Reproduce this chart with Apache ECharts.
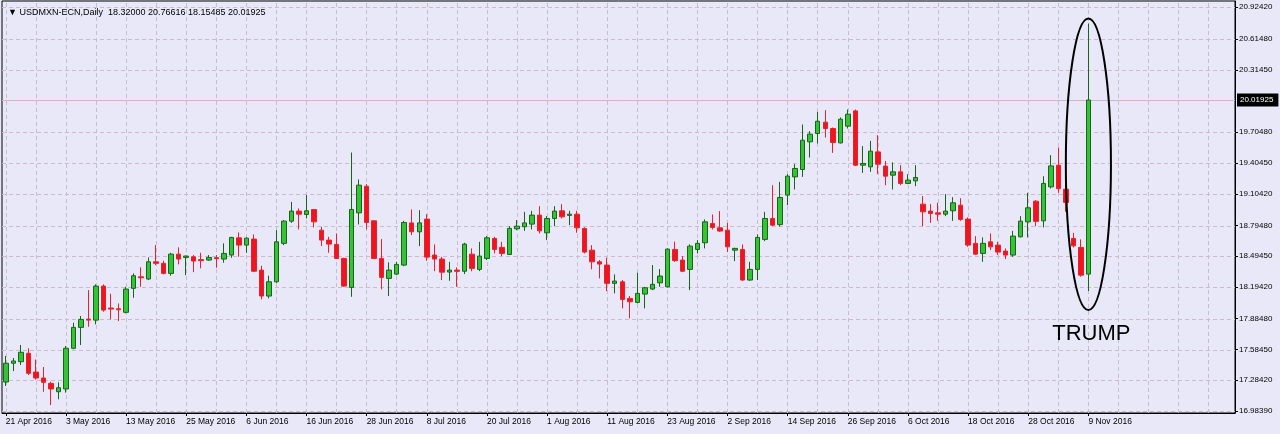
<!DOCTYPE html>
<html>
<head>
<meta charset="utf-8">
<script src="https://cdn.jsdelivr.net/npm/echarts@6/dist/echarts.min.js"></script>
<style>
html,body{margin:0;padding:0;background:#e8e8f8;}
#c{width:1280px;height:434px;}
</style>
</head>
<body>
<div id="c"></div>
<script>
// ---------- data ----------
const symbolTitle = 'USDMXN-ECN,Daily';
const startDate = '2016-04-21';
const xTickLabels = ['21 Apr 2016','3 May 2016','13 May 2016','25 May 2016','6 Jun 2016','16 Jun 2016','28 Jun 2016','8 Jul 2016','20 Jul 2016','1 Aug 2016','11 Aug 2016','23 Aug 2016','2 Sep 2016','14 Sep 2016','26 Sep 2016','6 Oct 2016','18 Oct 2016','28 Oct 2016','9 Nov 2016'];
const yTicks = [16.98390,17.28420,17.58450,17.88480,18.19420,18.49450,18.79480,19.10420,19.40450,19.70480,20.31450,20.61480,20.92420];
const lastPrice = 20.01925;

const open = [17.267,17.450,17.465,17.547,17.364,17.306,17.254,17.172,17.199,17.596,
17.800,17.881,17.871,18.203,17.989,17.982,17.947,18.181,18.294,18.272,
18.440,18.425,18.327,18.515,18.483,18.489,18.462,18.457,18.481,18.467,
18.506,18.674,18.603,18.662,18.359,18.106,18.245,18.620,18.837,18.935,
18.902,18.951,18.749,18.652,18.610,18.473,18.190,18.918,19.178,18.840,
18.473,18.278,18.320,18.408,18.820,18.733,18.857,18.506,18.467,18.340,
18.359,18.348,18.515,18.366,18.473,18.668,18.581,18.512,18.762,18.782,
18.808,18.896,18.723,18.863,18.938,18.893,18.905,18.766,18.554,18.440,
18.408,18.230,18.245,18.083,18.044,18.125,18.174,18.235,18.196,18.561,
18.457,18.366,18.561,18.626,18.815,18.772,18.749,18.554,18.561,18.262,
18.366,18.659,18.863,18.803,19.091,19.269,19.341,19.611,19.692,19.803,
19.741,19.601,19.764,19.913,19.383,19.367,19.513,19.374,19.286,19.318,
19.205,19.230,19.003,18.935,18.918,18.905,18.938,18.993,18.857,18.620,
18.522,18.635,18.603,18.545,18.506,18.684,18.830,19.032,18.840,19.172,
19.383,19.149,18.668,18.581,18.32000];
const high = [17.521,17.501,17.628,17.596,17.487,17.413,17.270,17.264,17.618,17.845,
17.911,18.164,18.220,18.220,18.128,18.034,18.196,18.327,18.386,18.483,
18.603,18.450,18.528,18.581,18.500,18.506,18.528,18.506,18.506,18.620,
18.684,18.727,18.678,18.707,18.401,18.304,18.749,18.847,19.025,18.961,
19.091,18.954,18.782,18.684,18.717,18.480,19.507,19.244,19.198,18.847,
18.662,18.434,18.440,18.840,18.951,18.944,18.905,18.610,18.489,18.440,
18.386,18.626,18.571,18.635,18.691,18.684,18.635,18.788,18.847,18.928,
18.938,18.983,18.886,18.983,19.003,18.938,18.938,18.776,18.603,18.457,
18.479,18.317,18.262,18.106,18.333,18.196,18.408,18.369,18.571,18.637,
18.496,18.610,18.652,18.854,18.902,18.935,18.820,18.577,18.610,18.440,
18.707,18.928,19.188,19.220,19.295,19.393,19.780,19.715,19.903,19.920,
19.751,19.849,19.927,19.927,19.569,19.620,19.676,19.425,19.410,19.383,
19.295,19.383,19.081,19.003,19.016,19.101,19.071,19.061,18.873,18.691,
18.678,18.717,18.635,18.571,18.742,18.886,19.113,19.042,19.275,19.481,
19.556,19.198,18.723,18.659,20.76616];
const low = [17.228,17.374,17.433,17.335,17.290,17.172,17.042,17.098,17.163,17.586,
17.628,17.806,17.830,17.953,17.878,17.862,17.937,18.089,18.196,18.262,
18.408,18.317,18.304,18.415,18.310,18.339,18.376,18.450,18.382,18.431,
18.479,18.489,18.528,18.339,18.073,18.083,18.235,18.603,18.820,18.756,
18.863,18.776,18.593,18.528,18.467,18.196,18.099,18.805,18.756,18.467,
18.171,18.106,18.310,18.398,18.701,18.593,18.450,18.349,18.262,18.255,
18.196,18.320,18.348,18.349,18.457,18.522,18.496,18.506,18.749,18.742,
18.756,18.717,18.652,18.788,18.863,18.798,18.723,18.522,18.366,18.278,
18.154,18.132,17.986,17.888,18.034,17.986,18.164,18.196,18.190,18.440,
18.339,18.164,18.522,18.571,18.756,18.733,18.535,18.447,18.255,18.255,
18.262,18.642,18.788,18.783,18.993,19.146,19.269,19.458,19.595,19.653,
19.503,19.595,19.741,19.374,19.308,19.318,19.296,19.188,19.146,19.188,
19.198,19.178,18.788,18.820,18.840,18.886,18.840,18.840,18.586,18.506,
18.440,18.554,18.506,18.467,18.489,18.678,18.678,18.788,18.776,19.156,
19.113,18.928,18.581,18.294,18.15485];
const close = [17.450,17.472,17.557,17.352,17.306,17.264,17.199,17.211,17.596,17.800,
17.878,17.871,18.203,17.969,17.979,17.972,18.174,18.304,18.284,18.440,
18.425,18.327,18.515,18.467,18.496,18.447,18.452,18.483,18.471,18.522,
18.678,18.603,18.671,18.348,18.106,18.245,18.635,18.837,18.935,18.905,
18.938,18.830,18.652,18.613,18.473,18.203,18.951,19.188,18.824,18.473,
18.288,18.359,18.415,18.824,18.733,18.820,18.486,18.467,18.339,18.359,
18.347,18.613,18.376,18.496,18.674,18.561,18.522,18.766,18.788,18.820,
18.896,18.742,18.863,18.935,18.879,18.905,18.772,18.535,18.440,18.418,
18.230,18.252,18.073,18.050,18.132,18.187,18.220,18.301,18.564,18.452,
18.348,18.593,18.620,18.830,18.776,18.740,18.586,18.571,18.262,18.366,
18.678,18.863,18.798,19.068,19.276,19.351,19.627,19.686,19.812,19.741,
19.605,19.832,19.881,19.383,19.400,19.520,19.393,19.276,19.318,19.205,
19.237,19.263,18.928,18.912,18.905,18.935,19.016,18.854,18.603,18.515,
18.620,18.586,18.535,18.506,18.691,18.837,18.967,18.835,19.205,19.376,
19.153,19.020,18.596,18.310,20.01925];

// ---------- layout constants ----------
const emptySlots = 19;     // blank bars to the right of the last candle
const labelEvery = 8;
const gridEvery = 4;
const yMin = 16.9644, yMax = 20.9856;
const ellipseTop = 20.814, ellipseBottom = 17.969, ellipseHalfBars = 2.55;

(function () {
  const n = open.length;
  const cats = [];
  const d = new Date(startDate + 'T00:00:00Z');
  while (cats.length < n + emptySlots) {
    const wd = d.getUTCDay();
    if (wd !== 0 && wd !== 6) cats.push(d.toISOString().slice(0, 10));
    d.setUTCDate(d.getUTCDate() + 1);
  }
  const ohlc = open.map((o, i) => [o, close[i], low[i], high[i]]);

  const gridStyle = { color: '#c8bccd', type: [4, 3], width: 1 };
  const lines = [];
  for (let i = 0; i < n + emptySlots; i += gridEvery) {
    lines.push({ xAxis: i, lineStyle: gridStyle });
  }
  yTicks.forEach(v => lines.push({ yAxis: v, lineStyle: gridStyle }));
  lines.push({
    yAxis: lastPrice,
    lineStyle: { color: '#d3b3c6', type: 'solid', width: 1 },
    label: {
      show: true, position: 'end', distance: 2,
      formatter: lastPrice.toFixed(5),
      backgroundColor: '#000', color: '#fff',
      fontSize: 8, fontFamily: 'Liberation Sans',
      padding: [3, 5, 2, 3]
    }
  });

  const fmt = v => v.toFixed(5);
  const chart = echarts.init(document.getElementById('c'), null, { renderer: 'canvas' });
  chart.setOption({
    backgroundColor: '#e8e8f8',
    animation: false,
    title: {
      text: '\u25BC ' + symbolTitle + '  ' + fmt(open[n - 1]) + ' ' + fmt(high[n - 1]) + ' ' + fmt(low[n - 1]) + ' ' + fmt(close[n - 1]),
      left: 3, top: 3,
      textStyle: { fontSize: 9, fontWeight: 'normal', color: '#000', fontFamily: 'Liberation Sans' }
    },
    grid: {
      left: 2, right: 45, top: 1, bottom: 21,
      show: true, borderColor: '#000', borderWidth: 1, backgroundColor: 'transparent'
    },
    xAxis: {
      type: 'category',
      data: cats,
      boundaryGap: true,
      axisLine: { show: true, lineStyle: { color: '#000', width: 1 } },
      axisTick: {
        show: true, alignWithLabel: true, length: 3,
        interval: (i) => i % labelEvery === 0 && i < n,
        lineStyle: { color: '#000' }
      },
      axisLabel: {
        show: true, align: 'left', margin: 4,
        interval: (i) => i % labelEvery === 0 && i < n,
        formatter: (v, i) => xTickLabels[i / labelEvery] || '',
        fontSize: 8.5, color: '#000', fontFamily: 'Liberation Sans'
      },
      splitLine: { show: false }
    },
    yAxis: {
      type: 'value',
      position: 'right',
      min: yMin, max: yMax,
      scale: true,
      axisLine: { show: true, lineStyle: { color: '#000', width: 1 } },
      axisTick: { show: true, length: 3, customValues: yTicks, lineStyle: { color: '#000' } },
      axisLabel: {
        show: true, customValues: yTicks, formatter: fmt, margin: 4,
        fontSize: 8, color: '#000', fontFamily: 'Liberation Sans'
      },
      splitLine: { show: false }
    },
    series: [{
      type: 'candlestick',
      data: ohlc,
      barWidth: 5,
      z: 3,
      itemStyle: {
        color: '#33c433', borderColor: '#17641a',
        color0: '#f0141e', borderColor0: '#e8222c',
        borderWidth: 1
      },
      markLine: {
        silent: true,
        symbol: 'none',
        z: 1,
        animation: false,
        label: { show: false },
        data: lines
      }
    }]
  });

  const pTop = chart.convertToPixel({ gridIndex: 0 }, [n - 1, ellipseTop]);
  const pBot = chart.convertToPixel({ gridIndex: 0 }, [n - 1, ellipseBottom]);
  const pLeft = chart.convertToPixel({ gridIndex: 0 }, [n - 1 - ellipseHalfBars, ellipseTop]);
  const cx = pTop[0], cy = (pTop[1] + pBot[1]) / 2;
  chart.setOption({
    graphic: [
      {
        type: 'ellipse',
        shape: { cx: cx, cy: cy, rx: Math.abs(cx - pLeft[0]), ry: (pBot[1] - pTop[1]) / 2 },
        style: { fill: 'transparent', stroke: '#000', lineWidth: 2 },
        z: 10
      },
      {
        type: 'text',
        x: cx + 3, y: pBot[1] + 24,
        style: {
          text: 'TRUMP', fill: '#000', fontSize: 22,
          fontFamily: 'Liberation Sans', align: 'center', verticalAlign: 'middle'
        },
        z: 10
      }
    ]
  });
})();
</script>
</body>
</html>
